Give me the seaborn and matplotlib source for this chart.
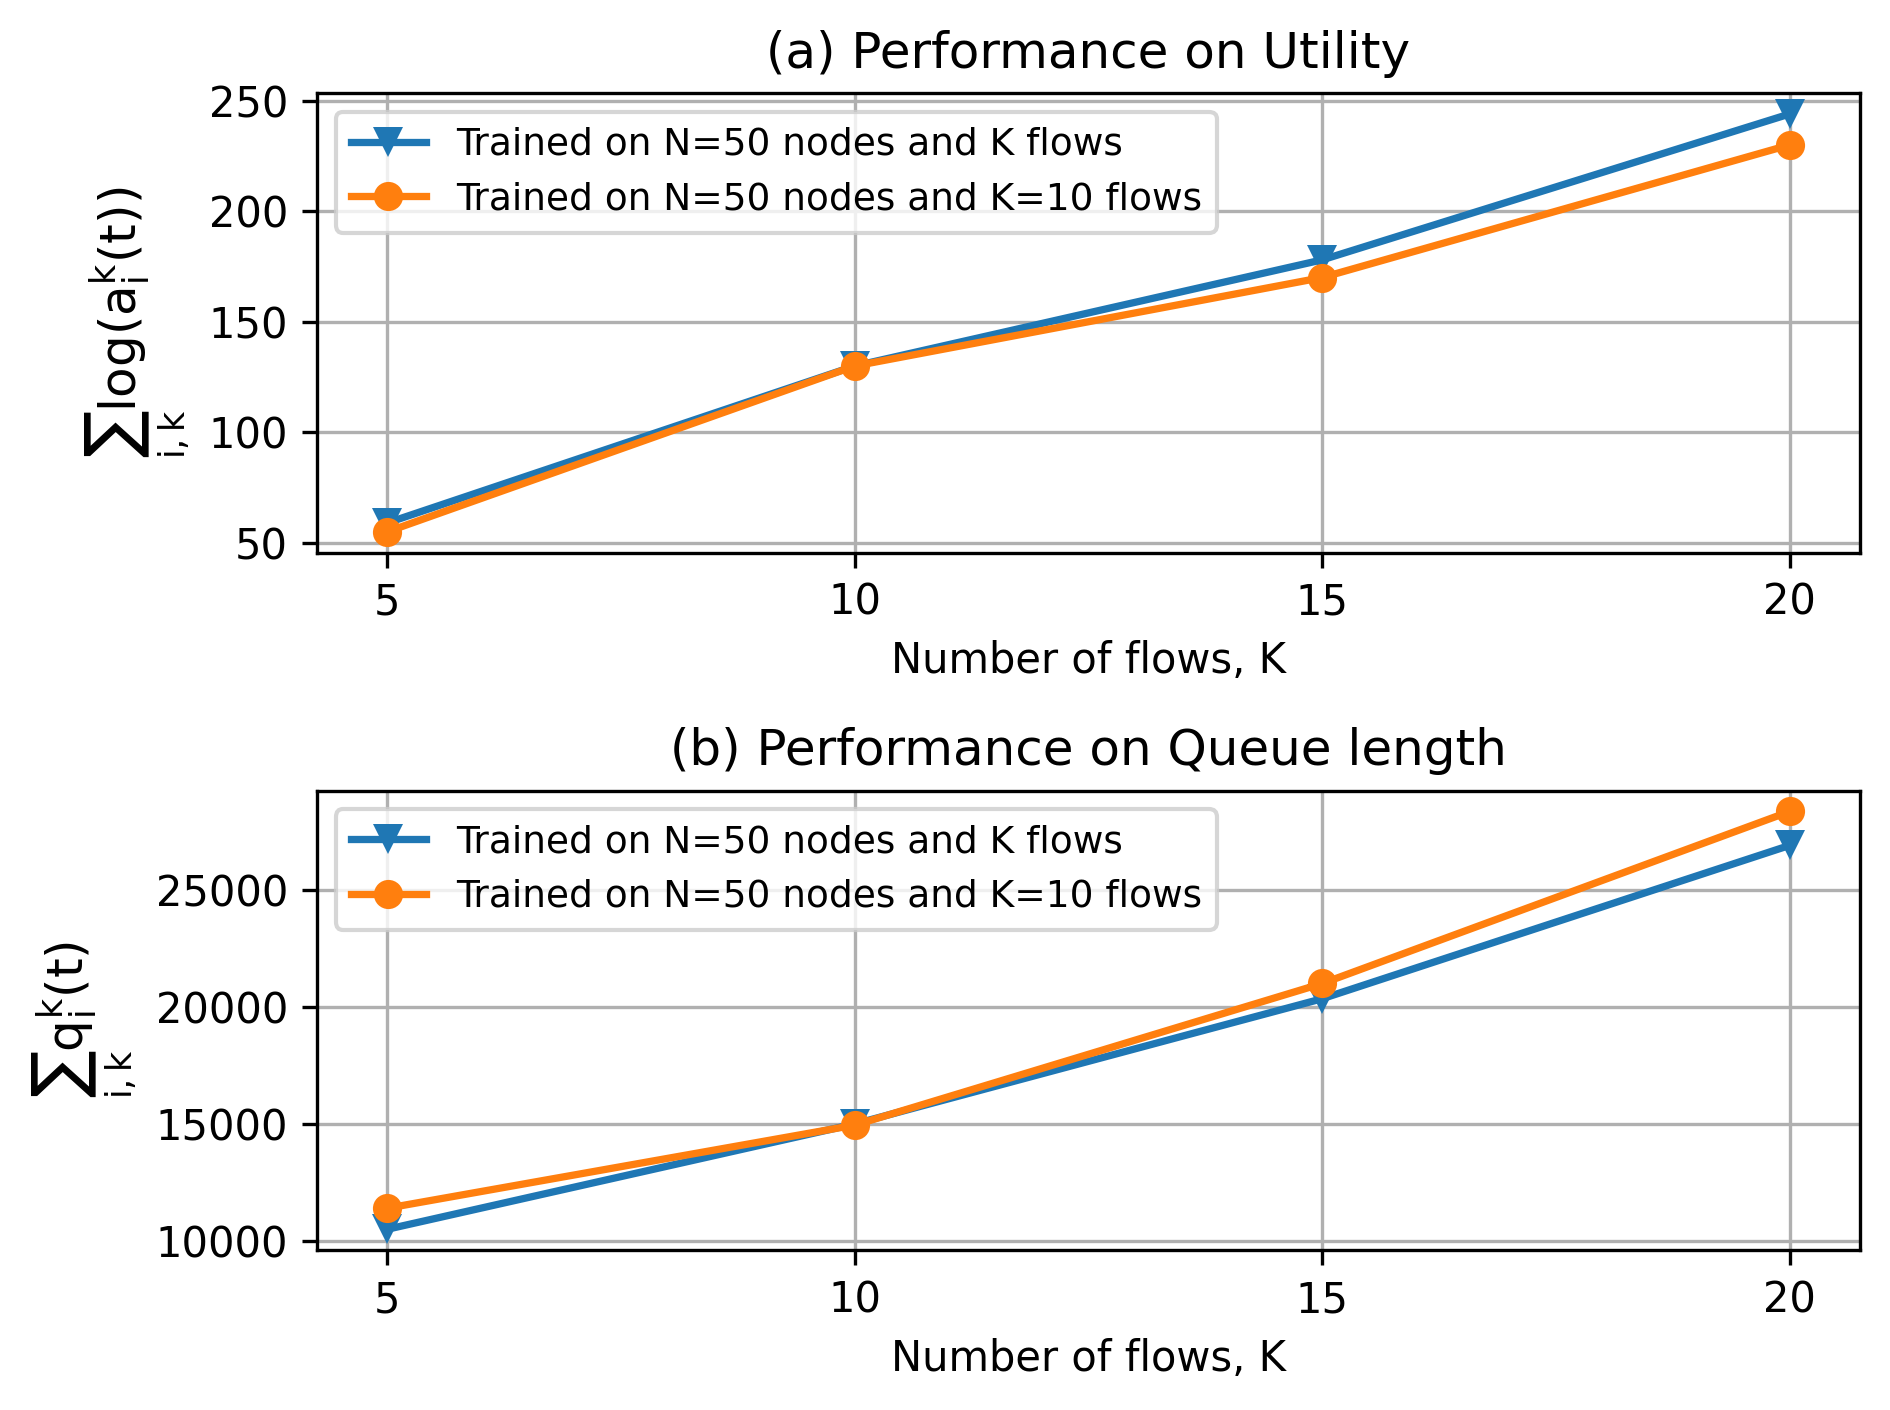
import matplotlib
matplotlib.use('Agg')
import matplotlib.pyplot as plt
import seaborn as sns
import pandas as pd

# --- data ---
flows = [5, 10, 15, 20]
label_k = 'Trained on N=50 nodes and K flows'
label_10 = 'Trained on N=50 nodes and K=10 flows'

utility_k = [59, 130, 178, 244]
utility_10 = [55, 130, 170, 230]

queue_k = [10500, 15000, 20350, 26900]
queue_10 = [11400, 14950, 21000, 28350]

plt.rcParams['mathtext.default'] = 'regular'


def make_df(vals_k, vals_10):
    df = pd.DataFrame({
        'K': flows * 2,
        'value': vals_k + vals_10,
        'model': [label_k] * len(flows) + [label_10] * len(flows),
    })
    return df


fig, axes = plt.subplots(2, 1, figsize=(6.4, 4.8), dpi=300)

panels = [
    (axes[0], make_df(utility_k, utility_10), '(a) Performance on Utility',
     r'$\sum_{i,k}\log(a_i^k(t))$'),
    (axes[1], make_df(queue_k, queue_10), '(b) Performance on Queue length',
     r'$\sum_{i,k}q_i^k(t)$'),
]

for ax, df, title, ylab in panels:
    sns.lineplot(data=df, x='K', y='value', hue='model', style='model',
                 markers={label_k: 'v', label_10: 'o'}, dashes=False,
                 palette={label_k: '#1f77b4', label_10: '#ff7f0e'},
                 linewidth=1.75, markersize=7, markeredgewidth=0, ax=ax)
    ax.set_title(title, fontsize=12)
    ax.set_xlabel('Number of flows, K', fontsize=10)
    ax.set_ylabel(ylab, fontsize=12)
    ax.set_xticks(flows)
    ax.grid(True)
    ax.legend(loc='upper left', fontsize=9)

axes[0].set_yticks([50, 100, 150, 200, 250])
axes[1].set_yticks([10000, 15000, 20000, 25000])

plt.tight_layout()
plt.savefig('out.png', dpi=300, bbox_inches='tight')
